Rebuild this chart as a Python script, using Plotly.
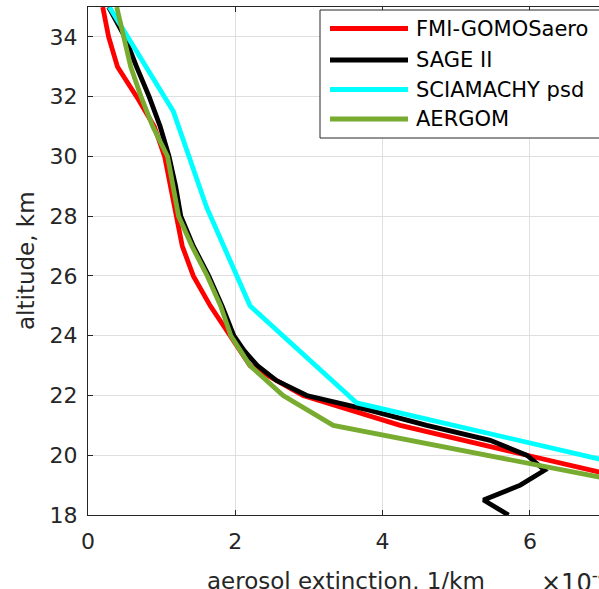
import plotly.graph_objects as go

# ---- data (extinction in units of 1e-4 1/km, altitude in km) ----
series_names = ["FMI-GOMOSaero", "SAGE II", "SCIAMACHY psd", "AERGOM"]
series_colors = ["#FF0000", "#000000", "#00FFFF", "#77AC30"]

fmi_alt = [35, 34, 33, 32, 31, 30, 29, 28, 27, 26, 25, 24, 23, 22, 21, 20, 19]
fmi_ext = [0.20, 0.28, 0.40, 0.66, 0.90, 1.04, 1.12, 1.20, 1.28, 1.43, 1.66, 1.93,
           2.20, 2.92, 4.24, 5.96, 7.70]

sage_alt = [35, 34, 33, 32, 31, 30, 29, 28, 27, 26, 25, 24, 23.5, 23, 22.5, 22,
            21.5, 21, 20.5, 20, 19.5, 19, 18.5, 18]
sage_ext = [0.28, 0.50, 0.66, 0.83, 0.98, 1.10, 1.19, 1.26, 1.43, 1.64, 1.82, 1.98,
            2.12, 2.30, 2.56, 2.97, 3.83, 4.60, 5.46, 5.96, 6.20, 5.87, 5.37, 5.71]

scia_alt = [35.0, 31.5, 28.3, 25.0, 21.75, 18.45]
scia_ext = [0.29, 1.16, 1.61, 2.20, 3.65, 9.44]

aergom_alt = [35, 34, 33, 32, 31, 30, 29, 28, 27, 26, 25, 24, 23, 22, 21, 20, 19]
aergom_ext = [0.39, 0.48, 0.58, 0.72, 0.88, 1.08, 1.16, 1.23, 1.41, 1.62, 1.80, 1.94,
              2.20, 2.65, 3.33, 5.45, 7.50]

x_ticks = [0, 2, 4, 6]
y_ticks = [18, 20, 22, 24, 26, 28, 30, 32, 34]
x_label = "aerosol extinction, 1/km"
y_label = "altitude, km"
x_exponent = "×10<sup>-4</sup>"

xs = [fmi_ext, sage_ext, scia_ext, aergom_ext]
ys = [fmi_alt, sage_alt, scia_alt, aergom_alt]

FONT = "DejaVu Sans"
AX = "#262626"
GRID = "#DFDFDF"

# layout geometry (pixels)
W, H = 599, 589
ML, MR, MT, MB = 88, 0, 7, 74
PW = W - ML - MR
PH = H - MT - MB
px_per_unit = 73.65
x_max = PW / px_per_unit

def pxx(px):
    return (px - ML) / PW

def pxy(py):
    return (H - MB - py) / PH

fig = go.Figure()
for name, col, x, y in zip(series_names, series_colors, xs, ys):
    fig.add_trace(go.Scatter(x=x, y=y, mode="lines", name=name,
                             line=dict(color=col, width=4.8),
                             showlegend=False))

fig.update_layout(
    width=W, height=H,
    margin=dict(l=ML, r=MR, t=MT, b=MB, pad=0),
    paper_bgcolor="white", plot_bgcolor="white",
    font=dict(family=FONT, color=AX, size=22),
    showlegend=False,
)
fig.update_xaxes(range=[0, x_max], tickvals=x_ticks, ticktext=[str(v) for v in x_ticks],
                 showgrid=True, gridcolor=GRID, gridwidth=1, zeroline=False,
                 showline=True, linecolor=AX, linewidth=1, mirror="ticks",
                 ticks="inside", ticklen=5, tickcolor=AX, tickwidth=1,
                 tickfont=dict(size=22, color=AX, family=FONT),
                 ticklabelstandoff=7)
fig.update_yaxes(range=[18, 35], tickvals=y_ticks, ticktext=[str(v) for v in y_ticks],
                 showgrid=True, gridcolor=GRID, gridwidth=1, zeroline=False,
                 showline=True, linecolor=AX, linewidth=1, mirror=False,
                 ticks="inside", ticklen=5, tickcolor=AX, tickwidth=1,
                 tickfont=dict(size=22, color=AX, family=FONT),
                 ticklabelstandoff=5)

shapes = []
annotations = []

# legend box (manual, MATLAB style)
lg_left, lg_top, lg_bottom = 320, 10, 138
shapes.append(dict(type="rect", xref="paper", yref="paper",
                   x0=pxx(lg_left), x1=pxx(W + 20), y0=pxy(lg_bottom), y1=pxy(lg_top),
                   fillcolor="white", line=dict(color=AX, width=1), layer="above"))
row_y = [28.5, 60, 89.5, 119]
for name, col, ry in zip(series_names, series_colors, row_y):
    shapes.append(dict(type="line", xref="paper", yref="paper",
                       x0=pxx(330), x1=pxx(408), y0=pxy(ry), y1=pxy(ry),
                       line=dict(color=col, width=4.8), layer="above"))
    annotations.append(dict(xref="paper", yref="paper", x=pxx(414), y=pxy(ry),
                            xanchor="left", yanchor="middle", text=name, showarrow=False,
                            font=dict(size=21, color="#000000", family=FONT)))

# axis labels
annotations.append(dict(xref="x", yref="paper", x=3.5, y=pxy(566),
                        xanchor="center", yanchor="top", text=x_label, showarrow=False,
                        font=dict(size=23, color=AX, family=FONT)))
annotations.append(dict(xref="paper", yref="paper", x=pxx(11), y=0.5,
                        xanchor="left", yanchor="middle", text=y_label, showarrow=False,
                        textangle=-90, font=dict(size=23, color=AX, family=FONT)))
annotations.append(dict(xref="paper", yref="paper", x=pxx(539), y=pxy(563),
                        xanchor="left", yanchor="top", text=x_exponent, showarrow=False,
                        font=dict(size=24, color=AX, family=FONT)))

fig.update_layout(shapes=shapes, annotations=annotations)
fig.write_html("out.html", config={"displayModeBar": False},
               post_script="document.body.style.margin='0';document.body.style.overflow='hidden';")
